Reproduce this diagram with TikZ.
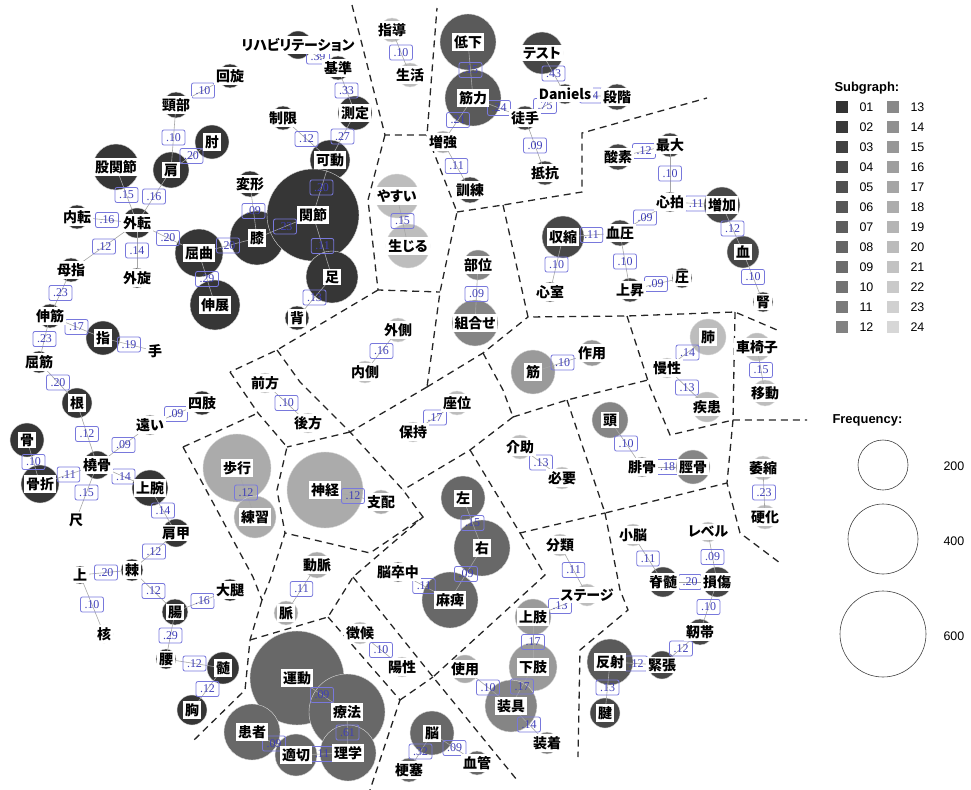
\documentclass[tikz,border=0pt]{standalone}
\usepackage{fontspec}
\newfontfamily\jp{Noto Sans CJK JP}[RawFeature=+palt]
\newfontfamily\lsans{Liberation Sans}
\newfontfamily\lserif{Liberation Serif}
\definecolor{cA}{HTML}{363636}
\definecolor{cB}{HTML}{474747}
\definecolor{cC}{HTML}{5a5a5a}
\definecolor{cD}{HTML}{686868}
\definecolor{cE}{HTML}{858585}
\definecolor{cF}{HTML}{9a9a9a}
\definecolor{cG}{HTML}{ababab}
\definecolor{cH}{HTML}{bdbdbd}
\definecolor{elbd}{HTML}{7878dc}
\definecolor{elbt}{HTML}{4040b8}
\pgfdeclarelayer{bg}\pgfdeclarelayer{fg}\pgfsetlayers{bg,main,fg}
\tikzset{
  kwc/.style={circle,inner sep=0pt,draw=white!70!gray,line width=0.4bp},
  kwl/.style={fill=white,inner xsep=2bp,inner ysep=2bp,font=\jp\bfseries\fontsize{14}{14}\selectfont},
  edg/.style={draw=black!35,line width=0.6bp},
  elb/.style={midway,draw=elbd,rounded corners=2bp,line width=0.8bp,inner xsep=4bp,inner ysep=3.5bp,text=elbt,font=\lserif\fontsize{12}{12}\selectfont},
  dsh/.style={draw=black!85,line width=1.3bp,dash pattern=on 7bp off 5bp},
  sqbox/.style={minimum size=12.5bp,inner sep=0pt},
  lgn/.style={anchor=west,font=\lsans\fontsize{12.5}{12.5}\selectfont},
  lgt/.style={anchor=west,font=\lsans\bfseries\fontsize{13}{13}\selectfont}
}
\newcommand\kw[6]{%
  \begin{pgfonlayer}{bg}\node[kwc,fill=#5,minimum size={2*#4bp}] (#1) at (#2,#3) {};\end{pgfonlayer}%
  \begin{pgfonlayer}{fg}\node[kwl] (#1l) at (#1.center) {#6};\end{pgfonlayer}}
\newcommand\ed[3]{\draw[edg] (#1.center) -- (#2.center) node[elb] (e#1#2) {#3};}
\begin{document}
\begin{tikzpicture}[x=1bp,y=-1bp]
\useasboundingbox (0,0) rectangle (971,790);
% ---------- nodes ----------
\kw{kaisen}{230}{76}{12}{cA}{回旋}
\kw{keibu}{176}{105}{13}{cA}{頸部}
\kw{hiji}{212}{142}{17}{cA}{肘}
\kw{kata}{171}{170}{18}{cA}{肩}
\kw{kokan}{116}{167}{23}{cA}{股関節}
\kw{henkei}{250}{184}{13}{cA}{変形}
\kw{naiten}{77}{217}{12}{cA}{内転}
\kw{gaiten}{137}{223}{15}{cA}{外転}
\kw{kukyoku}{199}{253}{24}{cA}{屈曲}
\kw{hiza}{257}{238}{27}{cA}{膝}
\kw{gaisen}{137}{278}{10}{cA}{外旋}
\kw{boshi}{71}{270}{12}{cA}{母指}
\kw{shinten}{215}{305}{25}{cA}{伸展}
\kw{shinkin}{50}{316}{12}{cA}{伸筋}
\kw{yubi}{103}{338}{17}{cA}{指}
\kw{te}{155}{351}{8}{cA}{手}
\kw{kukkin}{39}{362}{11}{cA}{屈筋}
\kw{kon}{77}{403}{15}{cA}{根}
\kw{shishi}{202}{403}{12}{cA}{四肢}
\kw{tooi}{150}{425}{10}{cE}{遠い}
\kw{hone}{27}{440}{17}{cA}{骨}
\kw{toukotsu}{97}{465}{14}{cA}{橈骨}
\kw{kossetsu}{40}{484}{19}{cA}{骨折}
\kw{jouwan}{150}{488}{18}{cA}{上腕}
\kw{shaku}{76}{520}{8}{cE}{尺}
\kw{kenkou}{176}{533}{14}{cA}{肩甲}
\kw{kyoku}{132}{570}{11}{cA}{棘}
\kw{ue}{80}{575}{9}{cA}{上}
\kw{daitai}{230}{590}{11}{cA}{大腿}
\kw{chou}{175}{612}{13}{cA}{腸}
\kw{kaku}{104}{634}{9}{cA}{核}
\kw{koshi}{166}{659}{10}{cA}{腰}
\kw{zui}{223}{668}{16}{cA}{髄}
\kw{mune}{192}{710}{15}{cA}{胸}
\kw{reha}{298}{45}{14}{cA}{リハビリテーション}
\kw{kijun}{338}{68}{12}{cA}{基準}
\kw{seigen}{283}{118}{12}{cA}{制限}
\kw{sokutei}{355}{113}{17}{cA}{測定}
\kw{kadou}{330}{160}{20}{cA}{可動}
\kw{kansetsu}{313}{215}{46}{cA}{関節}
\kw{ashi}{332}{277}{26}{cA}{足}
\kw{se}{297}{318}{12}{cA}{背}
\kw{shidou}{392}{30}{12}{cH}{指導}
\kw{seikatsu}{410}{75}{12}{cH}{生活}
\kw{teika}{468}{42}{28}{cC}{低下}
\kw{kinryoku}{473}{98}{28}{cC}{筋力}
\kw{zoukyou}{443}{142}{11}{cG}{増強}
\kw{kunren}{470}{190}{13}{cB}{訓練}
\kw{test}{542}{53}{21}{cB}{テスト}
\kw{daniels}{565}{94}{10}{cB}{Daniels}
\kw{toshu}{525}{118}{12}{cB}{徒手}
\kw{dankai}{617}{97}{13}{cB}{段階}
\kw{teikou}{545}{173}{12}{cB}{抵抗}
\kw{yasui}{397}{196}{22}{cH}{やすい}
\kw{shoujiru}{408}{246}{22}{cH}{生じる}
\kw{sanso}{618}{157}{13}{cB}{酸素}
\kw{saidai}{670}{145}{12}{cB}{最大}
\kw{shinpaku}{670}{202}{10}{cB}{心拍}
\kw{zouka}{722}{205}{18}{cB}{増加}
\kw{shuushuku}{563}{237}{21}{cB}{収縮}
\kw{ketsuatsu}{620}{233}{13}{cB}{血圧}
\kw{chi}{743}{252}{16}{cB}{血}
\kw{shinshitsu}{550}{292}{10}{cB}{心室}
\kw{joushou}{630}{290}{12}{cB}{上昇}
\kw{atsu}{682}{278}{10}{cB}{圧}
\kw{jin}{763}{302}{10}{cB}{腎}
\kw{bui}{478}{265}{15}{cE}{部位}
\kw{kumiawase}{475}{323}{23}{cE}{組合せ}
\kw{gaisoku}{398}{330}{12}{cH}{外側}
\kw{naisoku}{365}{372}{11}{cH}{内側}
\kw{kin}{533}{372}{22}{cF}{筋}
\kw{sayou}{592}{353}{13}{cF}{作用}
\kw{hai}{708}{337}{18}{cH}{肺}
\kw{mansei}{667}{368}{10}{cH}{慢性}
\kw{shikkan}{707}{407}{15}{cH}{疾患}
\kw{kurumaisu}{757}{347}{14}{cH}{車椅子}
\kw{idou}{765}{393}{13}{cH}{移動}
\kw{zenpou}{265}{383}{10}{cH}{前方}
\kw{kouhou}{308}{423}{10}{cH}{後方}
\kw{zai}{457}{403}{12}{cH}{座位}
\kw{hoji}{413}{432}{10}{cH}{保持}
\kw{kaijo}{520}{447}{12}{cH}{介助}
\kw{hitsuyou}{562}{478}{11}{cH}{必要}
\kw{atama}{610}{420}{18}{cE}{頭}
\kw{hikotsu}{642}{467}{10}{cE}{腓骨}
\kw{keikotsu}{693}{467}{17}{cE}{脛骨}
\kw{ishuku}{763}{468}{12}{cH}{萎縮}
\kw{kouka}{765}{517}{12}{cH}{硬化}
\kw{hokou}{237}{468}{34}{cG}{歩行}
\kw{renshuu}{255}{517}{21}{cG}{練習}
\kw{shinkei}{325}{490}{38}{cG}{神経}
\kw{shihai}{381}{502}{12}{cG}{支配}
\kw{hidari}{463}{498}{22}{cD}{左}
\kw{migi}{482}{548}{28}{cD}{右}
\kw{mahi}{450}{600}{28}{cD}{麻痺}
\kw{nousocchuu}{398}{572}{10}{cD}{脳卒中}
\kw{doumyaku}{317}{565}{13}{cG}{動脈}
\kw{myaku}{286}{613}{12}{cG}{脈}
\kw{bunrui}{560}{545}{11}{cH}{分類}
\kw{stage}{587}{595}{11}{cH}{ステージ}
\kw{shounou}{633}{535}{11}{cH}{小脳}
\kw{level}{708}{532}{10}{cH}{レベル}
\kw{sekizui}{663}{582}{15}{cB}{脊髄}
\kw{sonshou}{717}{582}{15}{cB}{損傷}
\kw{jintai}{700}{632}{13}{cB}{靭帯}
\kw{kinchou}{662}{665}{14}{cB}{緊張}
\kw{hansha}{610}{662}{23}{cC}{反射}
\kw{ken}{605}{713}{15}{cB}{腱}
\kw{choukou}{360}{633}{11}{cH}{徴候}
\kw{yousei}{402}{667}{10}{cH}{陽性}
\kw{shiyou}{465}{669}{14}{cG}{使用}
\kw{joushi}{533}{617}{18}{cF}{上肢}
\kw{kashi}{533}{667}{24}{cF}{下肢}
\kw{sougu}{511}{706}{26}{cE}{装具}
\kw{souchaku}{547}{743}{11}{cE}{装着}
\kw{undou}{297}{678}{47}{cD}{運動}
\kw{ryouhou}{347}{712}{38}{cD}{療法}
\kw{kanja}{252}{732}{28}{cD}{患者}
\kw{tekisetsu}{296}{755}{21}{cD}{適切}
\kw{rigaku}{348}{753}{28}{cD}{理学}
\kw{nou}{432}{733}{22}{cD}{脳}
\kw{kousoku}{409}{770}{12}{cD}{梗塞}
\kw{kekkan}{477}{763}{12}{cD}{血管}
% ---------- edges ----------
\ed{kaisen}{keibu}{.10}
\ed{keibu}{kata}{.10}
\ed{kata}{hiji}{.20}
\ed{kokan}{gaiten}{.15}
\ed{kata}{gaiten}{.16}
\ed{naiten}{gaiten}{.16}
\ed{gaiten}{kukyoku}{.20}
\ed{gaiten}{boshi}{.12}
\ed{gaiten}{gaisen}{.14}
\ed{kukyoku}{hiza}{.20}
\ed{kukyoku}{shinten}{.29}
\ed{henkei}{hiza}{.09}
\ed{hiza}{kansetsu}{.23}
\ed{kadou}{kansetsu}{.20}
\ed{kansetsu}{ashi}{.11}
\ed{ashi}{se}{.13}
\ed{boshi}{shinkin}{.23}
\ed{shinkin}{yubi}{.17}
\ed{shinkin}{kukkin}{.23}
\ed{yubi}{te}{.19}
\ed{kukkin}{kon}{.20}
\ed{kon}{toukotsu}{.12}
\ed{toukotsu}{tooi}{.09}
\ed{tooi}{shishi}{.09}
\ed{hone}{kossetsu}{.10}
\ed{kossetsu}{toukotsu}{.11}
\ed{toukotsu}{jouwan}{.14}
\ed{toukotsu}{shaku}{.15}
\ed{jouwan}{kenkou}{.14}
\ed{kenkou}{kyoku}{.12}
\ed{ue}{kyoku}{.20}
\ed{kyoku}{chou}{.12}
\ed{ue}{kaku}{.10}
\ed{chou}{daitai}{.16}
\ed{chou}{koshi}{.29}
\ed{koshi}{zui}{.12}
\ed{zui}{mune}{.12}
\ed{reha}{kijun}{.39}
\ed{kijun}{sokutei}{.33}
\ed{seigen}{kadou}{.12}
\ed{sokutei}{kadou}{.27}
\ed{shidou}{seikatsu}{.10}
\ed{teika}{kinryoku}{.15}
\ed{kinryoku}{toshu}{.24}
\ed{kinryoku}{zoukyou}{.21}
\ed{zoukyou}{kunren}{.11}
\ed{test}{daniels}{.43}
\ed{daniels}{dankai}{.14}
\ed{daniels}{toshu}{.75}
\ed{toshu}{teikou}{.09}
\ed{sanso}{saidai}{.12}
\ed{saidai}{shinpaku}{.10}
\ed{ketsuatsu}{shinpaku}{.09}
\ed{shinpaku}{zouka}{.11}
\ed{shuushuku}{ketsuatsu}{.11}
\ed{zouka}{chi}{.12}
\ed{shuushuku}{shinshitsu}{.10}
\ed{ketsuatsu}{joushou}{.10}
\ed{joushou}{atsu}{.09}
\ed{chi}{jin}{.10}
\ed{yasui}{shoujiru}{.15}
\ed{bui}{kumiawase}{.09}
\ed{gaisoku}{naisoku}{.16}
\ed{kin}{sayou}{.10}
\ed{hai}{mansei}{.14}
\ed{mansei}{shikkan}{.13}
\ed{kurumaisu}{idou}{.15}
\ed{zenpou}{kouhou}{.10}
\ed{zai}{hoji}{.17}
\ed{kaijo}{hitsuyou}{.13}
\ed{atama}{hikotsu}{.10}
\ed{hikotsu}{keikotsu}{.18}
\ed{ishuku}{kouka}{.23}
\ed{hokou}{renshuu}{.12}
\ed{shinkei}{shihai}{.12}
\ed{hidari}{migi}{.15}
\ed{migi}{mahi}{.09}
\ed{nousocchuu}{mahi}{.11}
\ed{doumyaku}{myaku}{.11}
\ed{bunrui}{stage}{.11}
\ed{joushi}{stage}{.13}
\ed{shounou}{sekizui}{.11}
\ed{sekizui}{sonshou}{.20}
\ed{level}{sonshou}{.09}
\ed{sonshou}{jintai}{.10}
\ed{jintai}{kinchou}{.12}
\ed{hansha}{kinchou}{.12}
\ed{hansha}{ken}{.13}
\ed{choukou}{yousei}{.10}
\ed{joushi}{kashi}{.17}
\ed{kashi}{sougu}{.17}
\ed{shiyou}{sougu}{.10}
\ed{sougu}{souchaku}{.14}
\ed{undou}{ryouhou}{.09}
\ed{ryouhou}{rigaku}{.61}
\ed{kanja}{tekisetsu}{.09}
\ed{tekisetsu}{rigaku}{.11}
\ed{nou}{kousoku}{.32}
\ed{nou}{kekkan}{.09}
% ---------- dashed partition ----------
\draw[dsh] (352,5) -- (385,135) -- (427,135) -- (437,8);
\draw[dsh] (385,135) -- (368,200) -- (378,290) -- (440,292);
\draw[dsh] (427,135) -- (457,212) -- (440,292) -- (427,387);
\draw[dsh] (457,212) -- (503,205) -- (582,192) -- (582,133) -- (707,98);
\draw[dsh] (503,205) -- (528,317) -- (627,316) -- (735,312) -- (777,330);
\draw[dsh] (735,312) -- (733,420) -- (807,420);
\draw[dsh] (733,420) -- (727,483) -- (740,533) -- (780,563);
\draw[dsh] (627,316) -- (650,387) -- (670,435) -- (733,420);
\draw[dsh] (427,387) -- (483,353) -- (528,317);
\draw[dsh] (483,353) -- (503,390) -- (513,417);
\draw[dsh] (513,417) -- (567,400) -- (648,380);
\draw[dsh] (567,400) -- (605,513) -- (727,483);
\draw[dsh] (513,417) -- (470,450) -- (403,490);
\draw[dsh] (470,450) -- (520,533) -- (605,513);
\draw[dsh] (520,533) -- (545,575) -- (433,677);
\draw[dsh] (605,513) -- (620,590) -- (628,610) -- (580,650) -- (578,757);
\draw[dsh] (378,290) -- (277,350) -- (230,372);
\draw[dsh] (230,372) -- (258,413) -- (287,447) -- (277,490) -- (285,533) -- (270,580) -- (262,600);
\draw[dsh] (277,350) -- (300,382) -- (350,432) -- (403,490) -- (423,517) -- (370,553) -- (285,533);
\draw[dsh] (350,432) -- (287,447);
\draw[dsh] (427,387) -- (350,432);
\draw[dsh] (183,447) -- (258,413);
\draw[dsh] (183,447) -- (253,577) -- (262,600);
\draw[dsh] (262,600) -- (250,640) -- (245,690) -- (192,742);
\draw[dsh] (250,640) -- (328,617) -- (353,577) -- (423,517);
\draw[dsh] (328,617) -- (400,700) -- (370,790);
\draw[dsh] (353,577) -- (433,677) -- (517,780);
\draw[dsh] (400,700) -- (433,677);
% ---------- legend ----------
\node[lgt] (sgt) at (831,88) {Subgraph:};
\foreach \i in {1,...,12}{
  \pgfmathsetmacro\sh{80-2.8*(\i-1)}
  \node[sqbox,fill=black!\sh] (sqa\i) at (842,{107+20*(\i-1)}) {};
  \node[lgn] (sla\i) at (856,{107+20*(\i-1)}) {\ifnum\i<10 0\fi\i};
}
\foreach \i in {13,...,24}{
  \pgfmathsetmacro\sh{80-2.8*(\i-1)}
  \node[sqbox,fill=black!\sh] (sqb\i) at (893,{107+20*(\i-13)}) {};
  \node[lgn] (slb\i) at (907,{107+20*(\i-13)}) {\i};
}
\node[lgt] (frt) at (829,420) {Frequency:};
\node[circle,draw=black!75,line width=0.6bp,minimum size=50bp,inner sep=0pt] (f200) at (883,465) {};
\node[circle,draw=black!75,line width=0.6bp,minimum size=70bp,inner sep=0pt] (f400) at (883,539) {};
\node[circle,draw=black!75,line width=0.6bp,minimum size=86bp,inner sep=0pt] (f600) at (883,634) {};
\node[lgn] (f200l) at (940,466) {200};
\node[lgn] (f400l) at (940,541) {400};
\node[lgn] (f600l) at (940,636) {600};
\end{tikzpicture}
\end{document}
